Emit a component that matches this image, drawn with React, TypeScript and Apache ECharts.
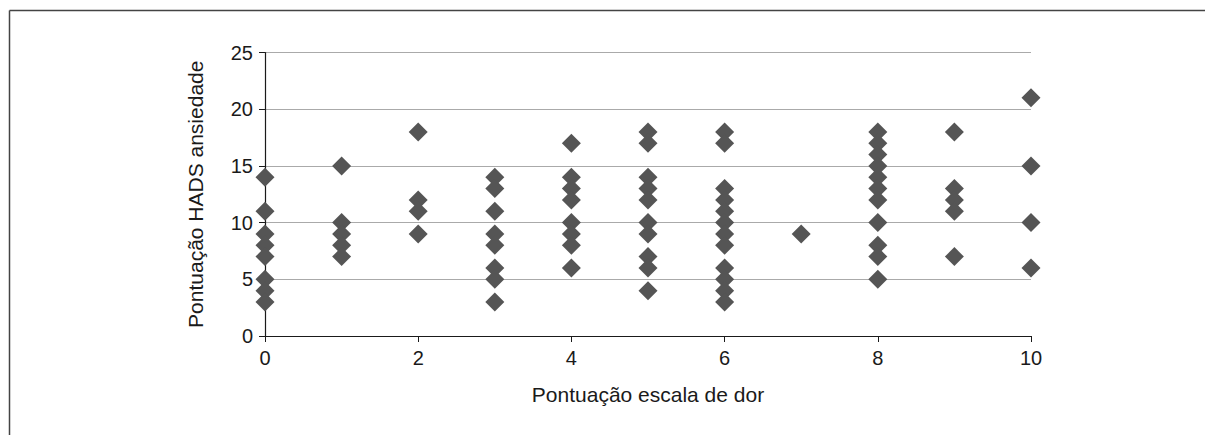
import React, { useEffect, useRef } from "react";
import * as echarts from "echarts";

const painScores: number[] = [0, 1, 2, 3, 4, 5, 6, 7, 8, 9, 10];
const anxietyByPain: number[][] = [
  [14, 11, 9, 8, 7, 5, 4, 3],
  [15, 10, 9, 8, 7],
  [18, 12, 11, 9],
  [14, 13, 11, 9, 8, 6, 5, 3],
  [17, 14, 13, 12, 10, 9, 8, 6],
  [18, 17, 14, 13, 12, 10, 9, 7, 6, 4],
  [18, 17, 13, 12, 11, 10, 9, 8, 6, 5, 4, 3],
  [9],
  [18, 17, 16, 15, 14, 13, 12, 10, 8, 7, 5],
  [18, 13, 12, 11, 7],
  [21, 15, 10, 6],
];
const xTitle = "Pontuação escala de dor";
const yTitle = "Pontuação HADS ansiedade";

export default function App() {
  const ref = useRef<HTMLDivElement>(null);
  useEffect(() => {
    if (!ref.current) return;
    const chart = echarts.init(ref.current, null, { renderer: "svg" });
    const points: number[][] = [];
    painScores.forEach((x, i) => {
      anxietyByPain[i].forEach((y) => points.push([x, y]));
    });
    const textStyle = { color: "#1a1a1a", fontFamily: "'Liberation Sans', Arial, sans-serif" };
    chart.setOption({
      animation: false,
      backgroundColor: "#fff",
      grid: { left: 265, top: 52.5, width: 766, height: 283.5, containLabel: false },
      xAxis: {
        type: "value",
        min: 0,
        max: 10,
        interval: 2,
        name: xTitle,
        nameLocation: "middle",
        nameGap: 48,
        nameTextStyle: { ...textStyle, fontSize: 21 },
        axisLine: { onZero: false, lineStyle: { color: "#1a1a1a", width: 1.2 } },
        axisTick: { show: true, inside: false, length: 6, lineStyle: { color: "#1a1a1a" } },
        axisLabel: { ...textStyle, fontSize: 20, margin: 12 },
        splitLine: { show: false },
      },
      yAxis: {
        type: "value",
        min: 0,
        max: 25,
        interval: 5,
        name: yTitle,
        nameLocation: "middle",
        nameGap: 59,
        nameTextStyle: { ...textStyle, fontSize: 21 },
        axisLine: { show: true, lineStyle: { color: "#1a1a1a", width: 1.2 } },
        axisTick: { show: true, inside: false, length: 6, lineStyle: { color: "#1a1a1a" } },
        axisLabel: { ...textStyle, fontSize: 20, margin: 12 },
        splitLine: { show: true, lineStyle: { color: "#aaaaaa", width: 1.2 } },
      },
      series: [
        {
          type: "scatter",
          data: points,
          symbol: "diamond",
          symbolSize: [19, 19],
          itemStyle: { color: "#555555", opacity: 1 },
          z: 3,
        },
      ],
      graphic: [
        {
          type: "line",
          shape: { x1: 9.5, y1: 10.5, x2: 1205, y2: 10.5 },
          style: { stroke: "#444", lineWidth: 1.5 },
          silent: true,
        },
        {
          type: "line",
          shape: { x1: 9.5, y1: 10.5, x2: 9.5, y2: 435 },
          style: { stroke: "#444", lineWidth: 1.5 },
          silent: true,
        },
      ],
    });
    return () => chart.dispose();
  }, []);
  return (
    <div
      ref={ref}
      style={{ position: "absolute", left: 0, top: 0, width: 1205, height: 435 }}
    />
  );
}
